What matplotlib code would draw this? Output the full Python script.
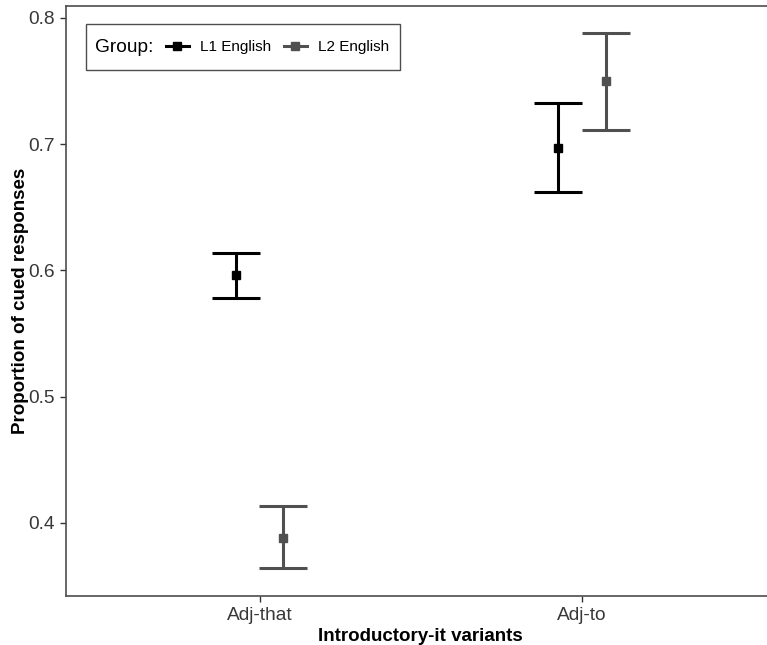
import matplotlib
matplotlib.use('Agg')
import matplotlib.pyplot as plt
import numpy as np
from matplotlib.lines import Line2D
from matplotlib.patches import Rectangle

plt.rcParams['font.family'] = ['Liberation Sans', 'DejaVu Sans']

categories = ['Adj-that', 'Adj-to']
groups = ['L1 English', 'L2 English']
group_colors = ['#000000', '#505050']

l1_mean = [0.596, 0.697]
l1_lower = [0.578, 0.662]
l1_upper = [0.614, 0.733]

l2_mean = [0.388, 0.750]
l2_lower = [0.364, 0.711]
l2_upper = [0.413, 0.788]

means = [l1_mean, l2_mean]
lowers = [l1_lower, l2_lower]
uppers = [l1_upper, l2_upper]

W, H = 767, 645
fig = plt.figure(figsize=(W / 100, H / 100), dpi=100)
ax = fig.add_axes([66 / W, 1 - 596 / H, (767 - 66) / W, 590 / H])

x = np.arange(1, len(categories) + 1)
dodge = 0.074
offsets = [-dodge, dodge]

for i, g in enumerate(groups):
    m = np.array(means[i])
    lo = m - np.array(lowers[i])
    hi = np.array(uppers[i]) - m
    ax.errorbar(x + offsets[i], m, yerr=[lo, hi], fmt='s', color=group_colors[i],
                ecolor=group_colors[i], elinewidth=2.2, capsize=17.3, capthick=2.2,
                markersize=5.5, zorder=3)

ax.set_xlim(0.4, 2 + (767 - 582) / 323)
ax.set_ylim(0.342, 0.8095)
ax.set_xticks(x)
ax.set_xticklabels(categories)
ax.set_yticks([0.4, 0.5, 0.6, 0.7, 0.8])
ax.set_yticklabels(['0.4', '0.5', '0.6', '0.7', '0.8'])

for s in ['left', 'bottom', 'top']:
    ax.spines[s].set_color('#4D4D4D')
    ax.spines[s].set_linewidth(1.2)
ax.spines['right'].set_visible(False)

ax.tick_params(axis='both', length=4.3, width=1.0, color='#333333',
               labelsize=13.8, labelcolor='#383838', pad=3.6)

ax.set_xlabel('Introductory-it variants', fontsize=13.5, fontweight='bold')
ax.set_ylabel('Proportion of cued responses', fontsize=13.5, fontweight='bold')
ax.xaxis.set_label_coords((420.5 - 66) / 701, -(628 - 596) / 590)
ax.yaxis.set_label_coords(-(66 - 29) / 701, 0.5)

# legend: horizontal, title on the left
fig.add_artist(Rectangle((86 / W, 1 - 70 / H), 314 / W, 46 / H, transform=fig.transFigure,
                         fill=False, edgecolor='#4D4D4D', linewidth=1.0))
fig.text(95 / W, 1 - 47 / H, 'Group:', fontsize=13.8, va='center', ha='left')
handles = [Line2D([], [], color=c, marker='s', lw=2.2, markersize=5.5) for c in group_colors]
ax.legend(handles, groups, ncol=2, frameon=False, loc='center left',
          bbox_to_anchor=(166 / W, 1 - 47 / H), bbox_transform=fig.transFigure,
          fontsize=11, handlelength=1.5, handletextpad=0.75, columnspacing=0.8,
          borderpad=0, borderaxespad=0)

fig.savefig('out.png', dpi=100)
